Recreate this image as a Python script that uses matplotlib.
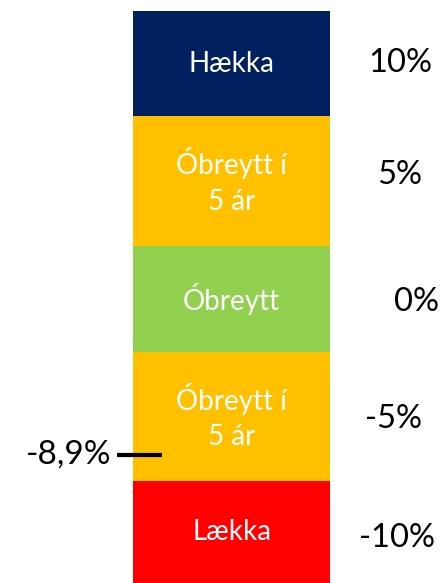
import matplotlib.pyplot as plt
import numpy as np

plt.rcParams['font.family'] = ['Lato', 'DejaVu Sans']

# segments from bottom to top (heights in bar units)
segment_labels = ['Lækka', 'Óbreytt í\n5 ár', 'Óbreytt', 'Óbreytt í\n5 ár', 'Hækka']
segment_heights = [102, 129, 106, 130, 105]
segment_colors = ['#FF0000', '#FFC000', '#92D050', '#FFC000', '#002060']
level_labels = ['-10%', '-5%', '0%', '5%', '10%']

marker_label = '-8,9%'
marker_height = 128

fig = plt.figure(figsize=(4.44, 5.83), dpi=100)
ax = fig.add_axes([0, 0, 1, 1])
ax.set_xlim(0, 444)
ax.set_ylim(0, 583)
ax.axis('off')

bar_x = 231.5
bar_w = 197
bottoms = np.concatenate([[0], np.cumsum(segment_heights)[:-1]])
ax.bar(bar_x, segment_heights, width=bar_w, bottom=bottoms,
       color=segment_colors, linewidth=0)

centers = bottoms + np.array(segment_heights) / 2
for c, lab in zip(centers, segment_labels):
    ax.text(bar_x, c, lab, ha='center', va='center', color='white',
            fontsize=20, linespacing=1.45)

level_x = [397, 393, 416, 400, 400]
level_dy = [-6, -3, -3, 6, 1]
for x, c, dy, lab in zip(level_x, centers, level_dy, level_labels):
    ax.text(x, c + dy, lab, ha='center', va='center', color='black', fontsize=23.5)

ax.plot([117, 162], [marker_height, marker_height], color='black', lw=3,
        solid_capstyle='butt')
ax.text(111, marker_height, marker_label, ha='right', va='center',
        color='black', fontsize=24)

fig.savefig('out.png', dpi=100)
